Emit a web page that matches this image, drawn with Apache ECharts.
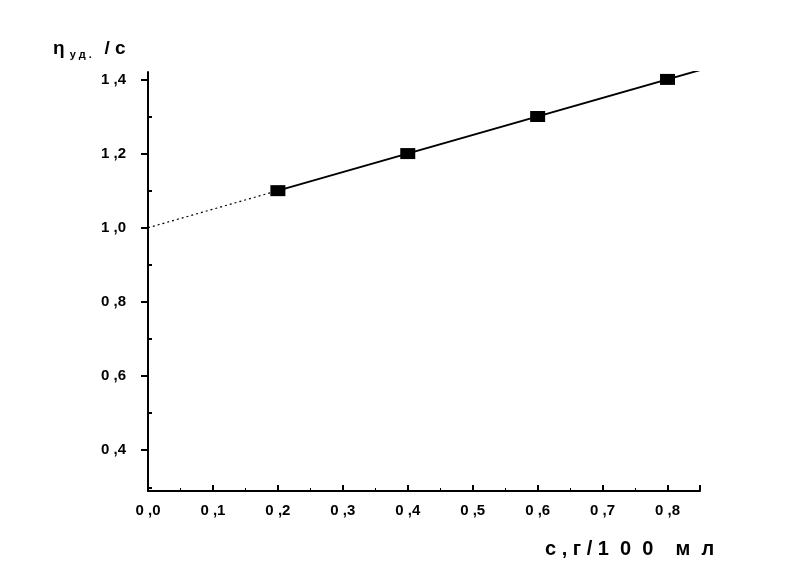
<!DOCTYPE html>
<html><head><meta charset="utf-8">
<script src="https://cdn.jsdelivr.net/npm/echarts@6/dist/echarts.min.js"></script>
<style>html,body{margin:0;padding:0;background:#fff}#c{width:801px;height:582px}</style>
</head><body><div id="c"></div>
<script>
const xTicks = [0, 0.1, 0.2, 0.3, 0.4, 0.5, 0.6, 0.7, 0.8];
const yMajor = [0.4, 0.6, 0.8, 1.0, 1.2, 1.4];
const yMinor = [0.3, 0.5, 0.7, 0.9, 1.1, 1.3];
const conc = [0.2, 0.4, 0.6, 0.8];
const viscosity = [1.1, 1.2, 1.3, 1.4];
const fitSolid = [[0.2, 1.1], [0.85, 1.425]];
const fitDotted = [[0, 1.0], [0.2, 1.1]];

const fmt = v => v.toFixed(1).replace('.', ' ,');
const font = {fontFamily: 'Liberation Sans, Arial, sans-serif', fontWeight: 'bold', color: '#000'};
const chart = echarts.init(document.getElementById('c'));
chart.setOption({
  animation: false,
  backgroundColor: '#fff',
  title: [
    {left: 48, top: 32, text: '{a|η}{b| у д .}{a|  / с}',
      textStyle: {rich: {a: Object.assign({fontSize: 19}, font), b: Object.assign({fontSize: 11, padding: [12, 2, 0, 2]}, font)}}},
    {left: 540, top: 534, text: 'с , г / 1  0  0    м  л', textStyle: Object.assign({fontSize: 20}, font)}
  ],
  grid: {left: 148, right: 101, top: 72, bottom: 91},
  xAxis: {
    type: 'value', min: 0, max: 0.85, interval: 0.1,
    axisLine: {lineStyle: {color: '#000', width: 2}},
    axisTick: {inside: true, length: 6, lineStyle: {color: '#000', width: 2}},
    minorTick: {show: true, splitNumber: 2, length: 3, lineStyle: {color: '#000'}},
    splitLine: {show: false},
    axisLabel: Object.assign({fontSize: 15, margin: 12, showMaxLabel: false, formatter: fmt}, font)
  },
  yAxis: [{
    type: 'value', min: 0.29, max: 1.42,
    axisLine: {lineStyle: {color: '#000', width: 2}},
    axisTick: {customValues: yMajor, length: 7, lineStyle: {color: '#000', width: 2}},
    splitLine: {show: false},
    axisLabel: Object.assign({customValues: yMajor, fontSize: 15, margin: 22, formatter: fmt}, font)
  }, {
    type: 'value', min: 0.29, max: 1.42, position: 'left',
    axisLine: {show: false},
    axisTick: {customValues: yMinor, inside: true, length: 4, lineStyle: {color: '#000', width: 2}},
    axisLabel: {show: false},
    splitLine: {show: false}
  }],
  series: [
    {type: 'line', data: fitDotted, symbol: 'none', lineStyle: {color: '#000', width: 1.2, type: [2, 3]}},
    {type: 'line', data: fitSolid, symbol: 'none', lineStyle: {color: '#000', width: 2}},
    {type: 'scatter', data: conc.map((c, i) => [c, viscosity[i]]), symbol: 'rect', symbolSize: [15, 11],
      itemStyle: {color: '#000', opacity: 1}}
  ]
});
</script></body></html>
